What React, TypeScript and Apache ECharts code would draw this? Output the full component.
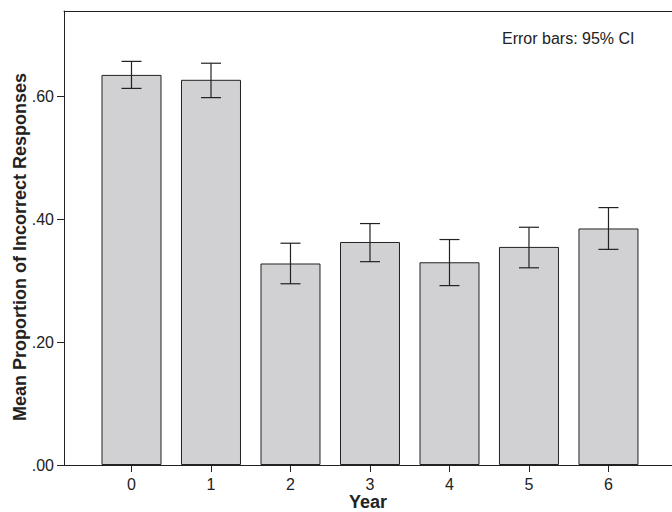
import React, { useEffect, useRef } from "react";
import * as echarts from "echarts";

const years = [0, 1, 2, 3, 4, 5, 6];
const means = [0.635, 0.627, 0.328, 0.363, 0.33, 0.355, 0.385];
const ciLow = [0.613, 0.598, 0.295, 0.331, 0.292, 0.321, 0.351];
const ciHigh = [0.657, 0.654, 0.361, 0.393, 0.367, 0.387, 0.419];
const yTicks = [0, 0.2, 0.4, 0.6];
const xTitle = "Year";
const yTitle = "Mean Proportion of Incorrect Responses";
const note = "Error bars: 95% CI";

const FONT = "'Liberation Sans', Arial, sans-serif";
const DARK = "#222222";

export default function App() {
  const ref = useRef<HTMLDivElement>(null);
  useEffect(() => {
    if (!ref.current) return;
    const chart = echarts.init(ref.current, undefined, { renderer: "svg" });
    chart.setOption({
      animation: false,
      backgroundColor: "#ffffff",
      textStyle: { fontFamily: FONT },
      grid: { left: 64, top: 11, right: 0, bottom: 47, containLabel: false, outerBoundsMode: "none" },
      xAxis: [
        {
          type: "value",
          min: -0.849,
          max: 6.799,
          axisLine: { show: true, onZero: false, lineStyle: { color: DARK, width: 1 } },
          axisTick: { show: true, length: 7, lineStyle: { color: DARK }, customValues: years },
          axisLabel: {
            show: true,
            fontSize: 16,
            color: DARK,
            margin: 11,
            customValues: years,
            formatter: (v: number) => String(v),
          },
          splitLine: { show: false },
        },
        {
          type: "value",
          position: "top",
          min: -0.849,
          max: 6.799,
          axisLine: { show: true, onZero: false, lineStyle: { color: DARK, width: 1 } },
          axisTick: { show: false },
          axisLabel: { show: false },
          splitLine: { show: false },
        },
      ],
      yAxis: {
        type: "value",
        min: 0,
        max: 0.739,
        axisLine: { show: true, onZero: false, lineStyle: { color: DARK, width: 1 } },
        axisTick: { show: true, length: 7, lineStyle: { color: DARK }, customValues: yTicks },
        axisLabel: {
          show: true,
          fontSize: 16,
          color: DARK,
          margin: 10,
          customValues: yTicks,
          formatter: (v: number) => v.toFixed(2).replace(/^0/, ""),
        },
        splitLine: { show: false },
      },
      graphic: [
        {
          type: "text",
          left: 502,
          top: 30,
          style: { text: note, fontSize: 16, fill: DARK, fontFamily: FONT },
        },
        {
          type: "text",
          x: 20,
          y: 247,
          rotation: Math.PI / 2,
          style: {
            text: yTitle,
            fontSize: 18,
            fontWeight: "bold",
            fill: DARK,
            fontFamily: FONT,
            align: "center",
            verticalAlign: "middle",
          },
        },
        {
          type: "text",
          x: 368,
          y: 502,
          style: {
            text: xTitle,
            fontSize: 18,
            fontWeight: "bold",
            fill: DARK,
            fontFamily: FONT,
            align: "center",
            verticalAlign: "middle",
          },
        },
      ],
      series: [
        {
          type: "bar",
          xAxisIndex: 0,
          barWidth: 60,
          data: years.map((y, i) => [y, means[i]]),
          itemStyle: { color: "#d1d1d3", borderColor: DARK, borderWidth: 1 },
        },
        {
          type: "custom",
          xAxisIndex: 0,
          data: years.map((y, i) => [y, ciLow[i], ciHigh[i]]),
          renderItem: (params: any, api: any) => {
            const x = api.value(0);
            const lo = api.coord([x, api.value(1)]);
            const hi = api.coord([x, api.value(2)]);
            const half = 10;
            const style = { stroke: DARK, lineWidth: 1.2 };
            return {
              type: "group",
              children: [
                { type: "line", shape: { x1: lo[0], y1: lo[1], x2: hi[0], y2: hi[1] }, style },
                { type: "line", shape: { x1: hi[0] - half, y1: hi[1], x2: hi[0] + half, y2: hi[1] }, style },
                { type: "line", shape: { x1: lo[0] - half, y1: lo[1], x2: lo[0] + half, y2: lo[1] }, style },
              ],
            };
          },
          z: 5,
        },
      ],
    });
    return () => chart.dispose();
  }, []);
  return (
    <div
      ref={ref}
      style={{ position: "absolute", left: 0, top: 0, width: 672, height: 512 }}
    />
  );
}
